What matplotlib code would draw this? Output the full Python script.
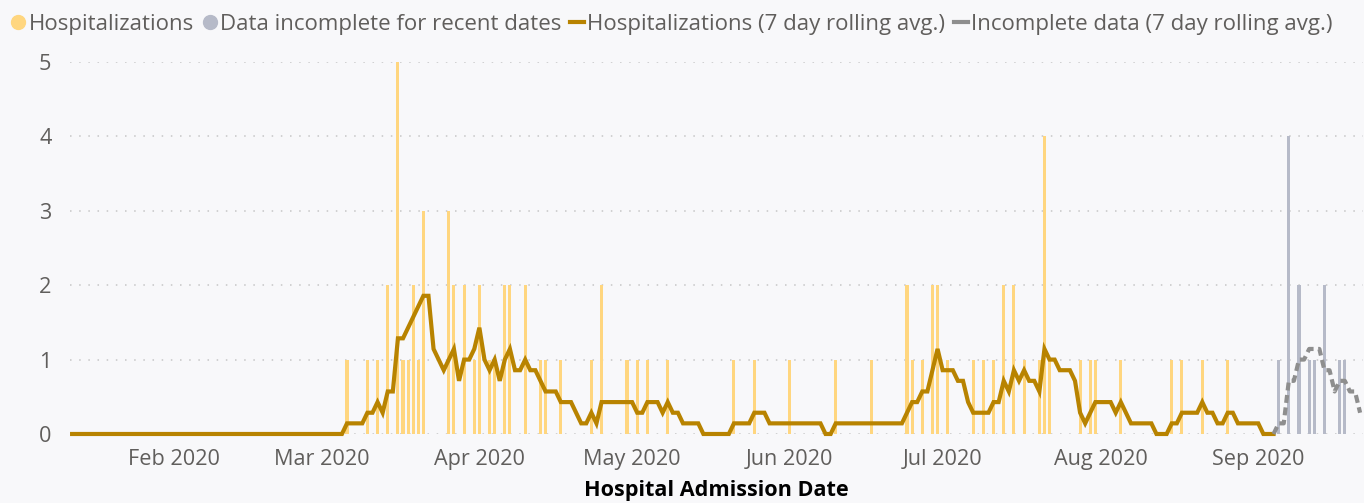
import matplotlib
matplotlib.use("Agg")
import matplotlib.pyplot as plt
import matplotlib.dates as mdates
from matplotlib.lines import Line2D
import pandas as pd

plt.rcParams["font.family"] = ["Open Sans", "DejaVu Sans"]

# date range shown on the chart, and first day of the incomplete period
first_day = "2020-01-12"
last_day = "2020-09-21"
incomplete_from = "2020-09-04"

# daily hospitalizations (days not listed are 0)
hosp_dates = ["2020-03-06", "2020-03-10", "2020-03-12", "2020-03-14", "2020-03-16",
              "2020-03-17", "2020-03-18", "2020-03-19", "2020-03-20", "2020-03-21",
              "2020-03-26", "2020-03-27", "2020-03-29", "2020-03-31", "2020-04-01",
              "2020-04-03", "2020-04-04", "2020-04-06", "2020-04-07", "2020-04-10",
              "2020-04-13", "2020-04-14", "2020-04-17", "2020-04-23", "2020-04-25",
              "2020-04-30", "2020-05-02", "2020-05-04", "2020-05-08", "2020-05-21",
              "2020-05-25", "2020-06-01", "2020-06-10", "2020-06-17", "2020-06-24",
              "2020-06-25", "2020-06-27", "2020-06-29", "2020-06-30", "2020-07-02",
              "2020-07-07", "2020-07-09", "2020-07-11", "2020-07-13", "2020-07-15",
              "2020-07-17", "2020-07-20", "2020-07-21", "2020-07-22", "2020-07-28",
              "2020-07-30", "2020-07-31", "2020-08-05", "2020-08-15", "2020-08-17",
              "2020-08-21", "2020-08-26"]
hosp_counts = [1, 1, 1, 2, 5,
               1, 1, 2, 1, 3,
               3, 2, 2, 1, 2,
               1, 1, 2, 2, 2,
               1, 1, 1, 1, 2,
               1, 1, 1, 1, 1,
               1, 1, 1, 1, 2,
               1, 1, 2, 2, 1,
               1, 1, 1, 2, 2,
               1, 1, 4, 1, 1,
               1, 1, 1, 1, 1,
               1, 1]

# recent days, data incomplete
inc_dates = ["2020-09-05", "2020-09-07", "2020-09-09", "2020-09-11", "2020-09-12",
             "2020-09-14", "2020-09-17", "2020-09-18"]
inc_counts = [1, 4, 2, 1, 1, 2, 1, 1]

y_ticks = [0, 1, 2, 3, 4, 5]

days = pd.date_range(first_day, last_day)
hosp = pd.Series(0, index=days)
hosp[pd.to_datetime(hosp_dates)] = hosp_counts
inc = pd.Series(0, index=days)
inc[pd.to_datetime(inc_dates)] = inc_counts
roll = (hosp + inc).rolling(7, min_periods=1).mean()
cut = pd.Timestamp(incomplete_from)

c_bar = "#FFD67F"
c_inc = "#B6BAC8"
c_line = "#B88300"
c_dash = "#8E8E8E"
c_txt = "#605E5C"
bg = "#F8F8FA"
fs = 15.6

fig = plt.figure(figsize=(13.64, 5.03), dpi=100, facecolor=bg)
ax = fig.add_axes([0.0510, 0.1372, 0.9480, 0.7396], facecolor=bg)

ax.bar(pd.to_datetime(hosp_dates), hosp_counts, width=0.6, color=c_bar, zorder=2)
ax.bar(pd.to_datetime(inc_dates), inc_counts, width=0.6, color=c_inc, zorder=2)
r1 = roll[roll.index <= cut]
r2 = roll[roll.index >= cut]
ax.plot(r1.index, r1.values, color=c_line, lw=3.0, zorder=3, clip_on=False,
        solid_joinstyle="miter")
ax.plot(r2.index, r2.values, color=c_dash, lw=3.0, ls=(0, (1.9, 1.1)), zorder=3,
        clip_on=False)

ax.set_xlim(days[0] - pd.Timedelta(hours=12), days[-1] + pd.Timedelta(hours=12))
ax.set_ylim(0, 5)
ax.set_yticks(y_ticks)
ax.yaxis.grid(True, color="#C6C6C6", lw=1.1, ls=(0, (1, 5)))
ax.set_axisbelow(True)
for sp in ax.spines.values():
    sp.set_visible(False)

ax.xaxis.set_major_locator(mdates.MonthLocator(bymonthday=1))
ax.xaxis.set_major_formatter(mdates.DateFormatter("%b %Y"))
ax.tick_params(axis="both", length=0, labelsize=fs, colors=c_txt)
ax.tick_params(axis="y", pad=13)
ax.tick_params(axis="x", pad=11)
ax.set_xlabel("Hospital Admission Date", fontsize=fs, fontweight="bold",
              color="black", labelpad=7)

handles = [
    Line2D([], [], marker="o", ls="", color=c_bar, markersize=10),
    Line2D([], [], marker="o", ls="", color=c_inc, markersize=10),
    Line2D([], [], color=c_line, lw=3),
    Line2D([], [], color=c_dash, lw=3),
]
labels = ["Hospitalizations", "Data incomplete for recent dates",
          "Hospitalizations (7 day rolling avg.)", "Incomplete data (7 day rolling avg.)"]
fig.legend(handles, labels, loc="upper left", bbox_to_anchor=(-0.006, 1.012), ncol=4,
           frameon=False, fontsize=16, handlelength=0.6, handletextpad=0.15,
           columnspacing=0.42, labelcolor=c_txt)

fig.savefig("out.png", dpi=100, facecolor=bg)
